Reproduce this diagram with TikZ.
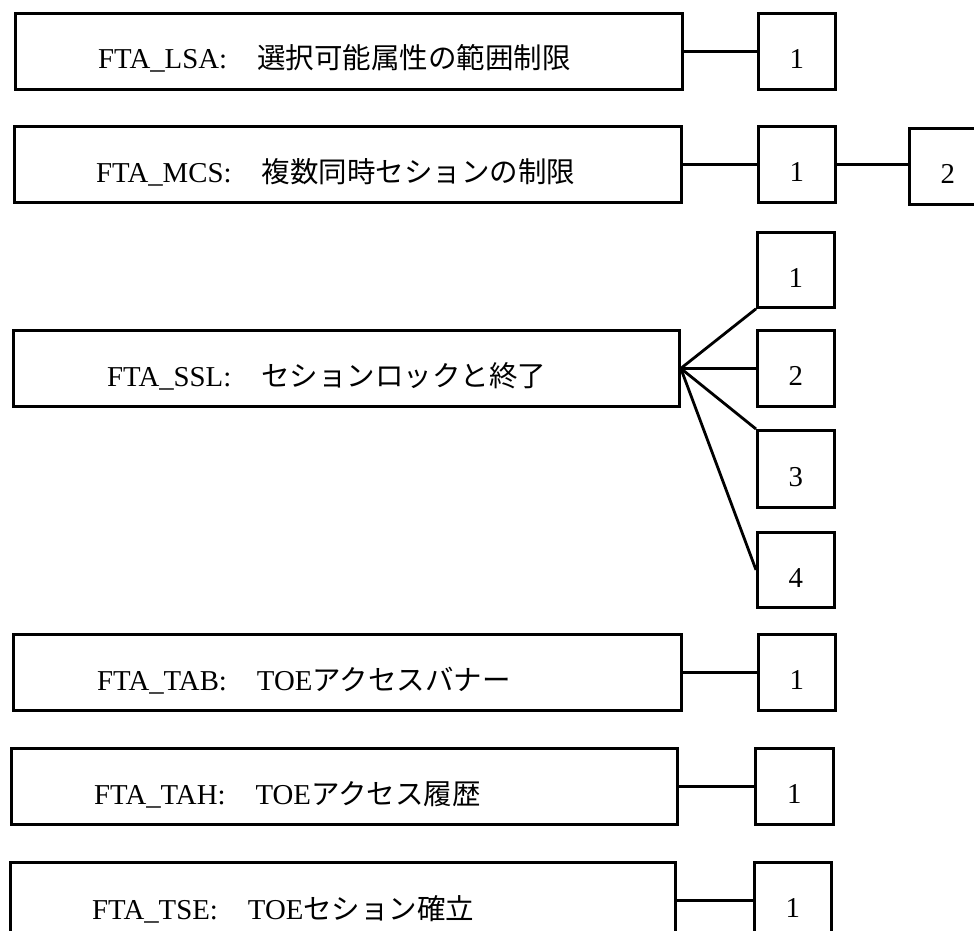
\documentclass[tikz,border=0pt]{standalone}
\usepackage{fontspec}
\setmainfont{Liberation Serif}
\newfontfamily\cjk{Noto Sans CJK JP}
\newcommand{\jp}[1]{{\cjk\fontsize{28.5}{34}\selectfont #1}}
\begin{document}
\begin{tikzpicture}[x=1pt,y=1pt,
  box/.style={draw, line width=2.8pt, rectangle, anchor=north west, inner sep=0pt},
  big/.style={box, minimum height=76pt},
  small/.style={box, minimum width=77pt, minimum height=76pt, text height=40pt, text depth=5pt, font=\fontsize{28.8}{34}\selectfont},
  lbl/.style={anchor=base west, inner sep=0pt, font=\fontsize{28.8}{34}\selectfont},
  link/.style={line width=2.8pt}
]
\useasboundingbox (0,0) rectangle (974,-931);

% FTA_LSA
\node[big, minimum width=667pt] (lsa) at (14,-12) {};
\node[lbl] (lsaT) at (98,-69) {FTA\_LSA:\hspace{30pt}\jp{選択可能属性の範囲制限}};
\node[small] (lsa1) at (757,-12) {1};
\draw[link] (lsa.east) -- (lsa1.west);

% FTA_MCS
\node[big, minimum width=667pt] (mcs) at (13,-125) {};
\node[lbl] (mcsT) at (96,-182) {FTA\_MCS:\hspace{30pt}\jp{複数同時セションの制限}};
\node[small] (mcs1) at (757,-125) {1};
\node[small] (mcs2) at (908,-127) {2};
\draw[link] (mcs.east) -- (mcs1.west);
\draw[link] (mcs1.east) -- (mcs1.east -| mcs2.west);

% FTA_SSL
\node[big, minimum width=666pt] (ssl) at (12,-329) {};
\node[lbl] (sslT) at (107,-386) {FTA\_SSL:\hspace{30pt}\jp{セションロックと終了}};
\node[small, minimum height=75pt] (ssl1) at (756,-231) {1};
\node[small] (ssl2) at (756,-329) {2};
\node[small, minimum height=77pt] (ssl3) at (756,-429) {3};
\node[small, minimum height=75pt] (ssl4) at (756,-531) {4};
\draw[link] (ssl.east) -- (ssl1.south west);
\draw[link] (ssl.east) -- (ssl2.west);
\draw[link] (ssl.east) -- (ssl3.north west);
\draw[link] (ssl.east) -- (ssl4.west);

% FTA_TAB
\node[big, minimum width=668pt] (tab) at (12,-633) {};
\node[lbl] (tabT) at (97,-690) {FTA\_TAB:\hspace{30pt}TOE\jp{アクセスバナー}};
\node[small] (tab1) at (757,-633) {1};
\draw[link] (tab.east) -- (tab1.west);

% FTA_TAH
\node[big, minimum width=666pt] (tah) at (10,-747) {};
\node[lbl] (tahT) at (94,-804) {FTA\_TAH:\hspace{30pt}TOE\jp{アクセス履歴}};
\node[small, minimum width=78pt] (tah1) at (754,-747) {1};
\draw[link] (tah.east) -- (tah1.west);

% FTA_TSE
\node[big, minimum width=665pt] (tse) at (9,-861) {};
\node[lbl] (tseT) at (92,-919) {FTA\_TSE:\hspace{30pt}TOE\jp{セション確立}};
\node[small] (tse1) at (753,-861) {1};
\draw[link] (tse.east) -- (tse1.west);
\end{tikzpicture}
\end{document}
